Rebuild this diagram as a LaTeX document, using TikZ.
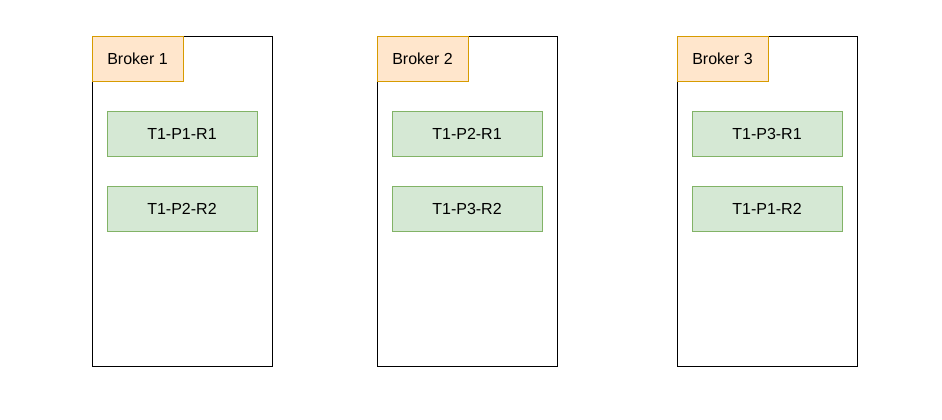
\documentclass[tikz,border=0pt]{standalone}
\usepackage{fontspec}
\setmainfont{Liberation Sans}
\definecolor{labfill}{HTML}{FFE6CC}
\definecolor{labdraw}{HTML}{D79B00}
\definecolor{repfill}{HTML}{D5E8D4}
\definecolor{repdraw}{HTML}{82B366}
\tikzset{
    broker/.style={draw, minimum width=135pt, minimum height=247.5pt, anchor=north west},
    brokerlabel/.style={draw=labdraw, fill=labfill, minimum width=68.25pt, minimum height=33.75pt, anchor=north west, font=\fontsize{12}{14}\selectfont},
    replica/.style={draw=repdraw, fill=repfill, minimum width=112.5pt, minimum height=33.75pt, anchor=north west, font=\fontsize{12}{14}\selectfont}
}
\newcommand\Broker[4]{%
    \node[broker] (b#1) at (#2,-36) {};
    \node[brokerlabel] (l#1) at (#2,-36) {Broker #1};
    \node[replica] (r#1a) at (#2+15,-111) {#3};
    \node[replica] (r#1b) at (#2+15,-186) {#4};
}
\begin{document}
\begin{tikzpicture}[x=0.75pt,y=0.75pt,inner sep=0pt,outer sep=0pt,line width=0.75pt]
    \useasboundingbox (0,0) rectangle (942,-419);
    \Broker{1}{92}{T1-P1-R1}{T1-P2-R2}
    \Broker{2}{377}{T1-P2-R1}{T1-P3-R2}
    \Broker{3}{677}{T1-P3-R1}{T1-P1-R2}
\end{tikzpicture}
\end{document}
